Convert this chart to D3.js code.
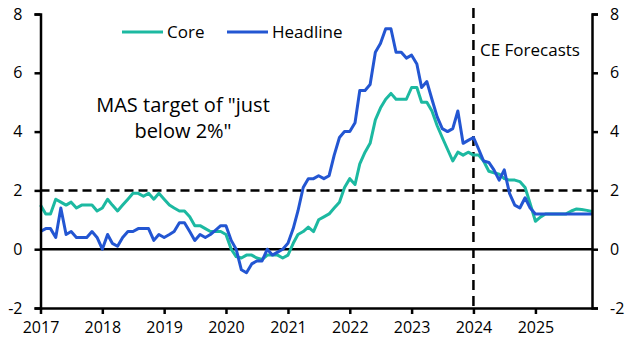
<!DOCTYPE html>
<html>
<head>
<meta charset="utf-8">
<script src="https://cdn.jsdelivr.net/npm/d3@7"></script>
<style>
  html, body { margin: 0; padding: 0; background: #fff; }
  svg text { font-family: "Open Sans", "DejaVu Sans", sans-serif; fill: #000; }
</style>
</head>
<body>
<svg id="chart" width="632" height="356"></svg>
<script>
// ---- Data (monthly, Jan 2017 – Dec 2025) ----
const startMonth = "2017-01";
const headline = [
  0.6, 0.7, 0.7, 0.4, 1.4, 0.5, 0.6, 0.4, 0.4, 0.4, 0.6, 0.4,
  0.0, 0.5, 0.2, 0.1, 0.4, 0.6, 0.6, 0.7, 0.7, 0.7, 0.3, 0.5,
  0.4, 0.5, 0.6, 0.9, 0.9, 0.6, 0.3, 0.5, 0.4, 0.5, 0.65, 0.8,
  0.8, 0.3, 0.0, -0.7, -0.8, -0.5, -0.4, -0.4, 0.0, -0.2, -0.1, 0.0,
  0.2, 0.7, 1.3, 2.1, 2.4, 2.4, 2.5, 2.4, 2.5, 3.2, 3.8, 4.0,
  4.0, 4.3, 5.4, 5.4, 5.6, 6.7, 7.0, 7.5, 7.5, 6.7, 6.7, 6.5,
  6.6, 6.3, 5.5, 5.7, 5.1, 4.5, 4.1, 4.0, 4.1, 4.7, 3.6, 3.7,
  3.8, 3.4, 3.0, 2.95, 2.7, 2.35, 2.7, 1.9, 1.5, 1.4, 1.75, 1.4,
  1.2, 1.2, 1.2, 1.2, 1.2, 1.2, 1.2, 1.2, 1.2, 1.2, 1.2, 1.2
];
const core = [
  1.5, 1.2, 1.2, 1.7, 1.6, 1.5, 1.6, 1.4, 1.5, 1.5, 1.5, 1.3,
  1.4, 1.7, 1.5, 1.3, 1.5, 1.7, 1.9, 1.9, 1.8, 1.9, 1.7, 1.9,
  1.7, 1.5, 1.4, 1.3, 1.3, 1.1, 0.8, 0.8, 0.7, 0.6, 0.6, 0.6,
  0.5, 0.0, -0.25, -0.3, -0.2, -0.2, -0.3, -0.35, -0.2, -0.2, -0.2, -0.3,
  -0.2, 0.2, 0.5, 0.6, 0.75, 0.6, 1.0, 1.1, 1.2, 1.4, 1.6, 2.1,
  2.4, 2.2, 2.9, 3.3, 3.6, 4.4, 4.8, 5.1, 5.3, 5.1, 5.1, 5.1,
  5.5, 5.5, 5.0, 5.0, 4.7, 4.2, 3.8, 3.4, 3.0, 3.3, 3.2, 3.3,
  3.2, 3.2, 3.0, 2.65, 2.6, 2.55, 2.4, 2.35, 2.35, 2.3, 2.1, 1.55,
  0.95, 1.1, 1.2, 1.2, 1.2, 1.2, 1.2, 1.3, 1.37, 1.35, 1.32, 1.28
];
const seriesNames = ["Core", "Headline"];
const seriesColors = ["#1cb9a1", "#2356d2"];
const yTicks = [-2, 0, 2, 4, 6, 8];
const xTickYears = ["2017", "2018", "2019", "2020", "2021", "2022", "2023", "2024", "2025"];
const targetValue = 2;
const forecastStart = "2024-01";
const annotationLines = ["MAS target of \"just", "below 2%\""];
const forecastLabel = "CE Forecasts";

// ---- Layout ----
const W = 632, H = 356;
const margin = { left: 40.5, right: 40, top: 14, bottom: 48 };
const parse = d3.timeParse("%Y-%m");
const t0 = parse(startMonth);
const dates = headline.map((_, i) => d3.timeMonth.offset(t0, i));

const x = d3.scaleTime()
  .domain([dates[0], dates[dates.length - 1]])
  .range([margin.left, W - margin.right]);
const y = d3.scaleLinear()
  .domain([-2, 8])
  .range([H - margin.bottom, margin.top]);

const svg = d3.select("#chart");

// zero line
svg.append("line")
  .attr("x1", x.range()[0]).attr("x2", x.range()[1])
  .attr("y1", y(0)).attr("y2", y(0))
  .attr("stroke", "#000").attr("stroke-width", 2.5);

// target line
svg.append("line")
  .attr("x1", x.range()[0]).attr("x2", x.range()[1])
  .attr("y1", y(targetValue)).attr("y2", y(targetValue))
  .attr("stroke", "#000").attr("stroke-width", 2.5)
  .attr("stroke-dasharray", "9,5");

// forecast vertical line
const fx = x(parse(forecastStart));
svg.append("line")
  .attr("x1", fx).attr("x2", fx)
  .attr("y1", y(8) - 6).attr("y2", y(-2))
  .attr("stroke", "#000").attr("stroke-width", 2.5)
  .attr("stroke-dasharray", "10,6");

// series lines
const line = d3.line().x((d, i) => x(dates[i])).y(d => y(d));
[core, headline].forEach((s, k) => {
  svg.append("path")
    .datum(s)
    .attr("d", line)
    .attr("fill", "none")
    .attr("stroke", seriesColors[k])
    .attr("stroke-width", 3)
    .attr("stroke-linejoin", "round");
});

// axes
const fmtY = d => String(d); // hyphen-minus, as in the reference
function styleAxis(g) {
  g.selectAll("path.domain").attr("stroke", "#000").attr("stroke-width", 2.5);
  g.selectAll(".tick line").attr("stroke", "#000").attr("stroke-width", 2.5);
  g.selectAll(".tick text").attr("font-size", 16).attr("fill", "#000")
    .style("font-family", '"Open Sans", sans-serif');
}
const yLeft = svg.append("g")
  .attr("transform", `translate(${x.range()[0]},0)`)
  .call(d3.axisLeft(y).tickValues(yTicks).tickSize(6).tickPadding(12).tickFormat(fmtY));
styleAxis(yLeft);
const yRight = svg.append("g")
  .attr("transform", `translate(${x.range()[1]},0)`)
  .call(d3.axisRight(y).tickValues(yTicks).tickSize(6).tickPadding(12).tickFormat(fmtY));
styleAxis(yRight);

const xTickDates = xTickYears.map(s => parse(s + "-01"));
const xAxis = svg.append("g")
  .attr("transform", `translate(0,${y(-2)})`)
  .call(d3.axisBottom(x).tickValues(xTickDates).tickSize(6).tickSizeOuter(0).tickPadding(8)
    .tickFormat((d, i) => xTickYears[i]));
styleAxis(xAxis);

// legend
const legendX = [122, 227];
seriesNames.forEach((name, k) => {
  svg.append("line")
    .attr("x1", legendX[k]).attr("x2", legendX[k] + 41)
    .attr("y1", 32).attr("y2", 32)
    .attr("stroke", seriesColors[k]).attr("stroke-width", 3);
  svg.append("text")
    .attr("x", legendX[k] + 45).attr("y", 32)
    .attr("dy", "0.35em")
    .attr("font-size", 17)
    .text(name);
});

// annotations
annotationLines.forEach((t, i) => {
  svg.append("text")
    .attr("x", 183).attr("y", 105 + i * 26)
    .attr("dy", "0.35em")
    .attr("text-anchor", "middle")
    .attr("font-size", 17)
    .style("font-size", "20px")
    .text(t);
});
svg.append("text")
  .attr("x", 480).attr("y", 50)
  .attr("dy", "0.35em")
  .attr("font-size", 17)
  .text(forecastLabel);
</script>
</body>
</html>
